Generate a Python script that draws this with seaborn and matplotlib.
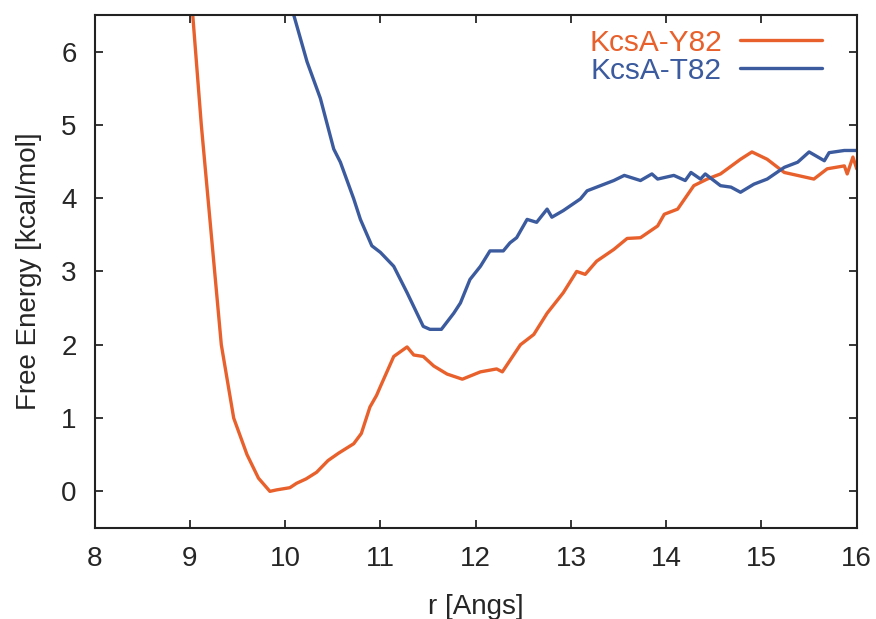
import matplotlib
matplotlib.use('Agg')
import matplotlib.pyplot as plt
import seaborn as sns
import pandas as pd

# KcsA-Y82 free energy profile
r_y82 = [9.03, 9.06, 9.12, 9.19, 9.26, 9.33, 9.46, 9.60, 9.72, 9.84, 9.91, 10.05,
         10.12, 10.22, 10.33, 10.45, 10.56, 10.72, 10.80, 10.89, 10.96, 11.00, 11.14,
         11.28, 11.35, 11.45, 11.56, 11.70, 11.86, 12.05, 12.22, 12.28, 12.47, 12.61,
         12.75, 12.92, 13.06, 13.15, 13.27, 13.45, 13.59, 13.73, 13.91, 13.98, 14.12,
         14.29, 14.43, 14.57, 14.78, 14.90, 15.06, 15.24, 15.55, 15.69, 15.87, 15.90,
         15.96, 16.00]
e_y82 = [6.50, 6.00, 5.00, 4.00, 3.00, 2.00, 1.00, 0.50, 0.18, 0.00, 0.02, 0.05,
         0.11, 0.17, 0.26, 0.42, 0.52, 0.65, 0.79, 1.15, 1.31, 1.43, 1.84,
         1.97, 1.86, 1.84, 1.71, 1.60, 1.53, 1.63, 1.67, 1.63, 2.00, 2.14,
         2.43, 2.71, 3.00, 2.96, 3.14, 3.30, 3.45, 3.46, 3.62, 3.78, 3.85,
         4.17, 4.26, 4.33, 4.53, 4.63, 4.53, 4.35, 4.26, 4.40, 4.44, 4.33,
         4.56, 4.40]

# KcsA-T82 free energy profile
r_t82 = [10.09, 10.23, 10.37, 10.51, 10.58, 10.72, 10.79, 10.91, 10.96, 11.00, 11.14,
         11.28, 11.45, 11.52, 11.64, 11.77, 11.84, 11.94, 12.05, 12.15, 12.29, 12.36,
         12.43, 12.54, 12.64, 12.75, 12.80, 12.92, 13.10, 13.17, 13.31, 13.45, 13.56,
         13.73, 13.85, 13.91, 14.08, 14.20, 14.26, 14.36, 14.41, 14.57, 14.68, 14.78,
         14.92, 15.06, 15.24, 15.38, 15.50, 15.66, 15.71, 15.87, 16.00]
e_t82 = [6.50, 5.86, 5.36, 4.67, 4.49, 3.99, 3.71, 3.35, 3.30, 3.26, 3.07,
         2.71, 2.25, 2.21, 2.21, 2.43, 2.57, 2.89, 3.07, 3.28, 3.28, 3.39,
         3.46, 3.71, 3.67, 3.85, 3.74, 3.83, 3.99, 4.10, 4.17, 4.24, 4.31,
         4.24, 4.33, 4.26, 4.31, 4.24, 4.35, 4.26, 4.33, 4.17, 4.15, 4.08,
         4.19, 4.26, 4.42, 4.49, 4.63, 4.51, 4.62, 4.65, 4.65]

df_y = pd.DataFrame({'r': r_y82, 'E': e_y82})
df_t = pd.DataFrame({'r': r_t82, 'E': e_t82})

sns.set_style('ticks')
plt.rcParams['font.family'] = ['Liberation Sans', 'DejaVu Sans']

fig = plt.figure(figsize=(8.76, 6.19), dpi=100)
ax = fig.add_axes([0.108, 0.147, 0.870, 0.829])

sns.lineplot(data=df_y, x='r', y='E', ax=ax, color='#E8612C', linewidth=2.4,
             label='KcsA-Y82', sort=False, estimator=None)
sns.lineplot(data=df_t, x='r', y='E', ax=ax, color='#3B5B9E', linewidth=2.4,
             label='KcsA-T82', sort=False, estimator=None)

ax.set_xlim(8, 16)
ax.set_ylim(-0.5, 6.5)
ax.set_xticks(range(8, 17))
ax.set_yticks(range(0, 7))
ax.set_xlabel('r [Angs]', fontsize=20, labelpad=16)
ax.set_ylabel('Free Energy [kcal/mol]', fontsize=20, labelpad=14)
ax.tick_params(direction='in', length=6, width=1.3, labelsize=20,
               top=True, right=True, pad=13)
for s in ax.spines.values():
    s.set_linewidth(1.5)
    s.set_color('#222222')

leg = ax.legend(loc='upper right', bbox_to_anchor=(0.962, 0.985), frameon=False,
                markerfirst=False, labelcolor='linecolor', fontsize=21.5,
                handlelength=2.75, handletextpad=0.6, borderaxespad=0.0,
                borderpad=0.2, labelspacing=0.0)

fig.savefig('out.png', dpi=100)
